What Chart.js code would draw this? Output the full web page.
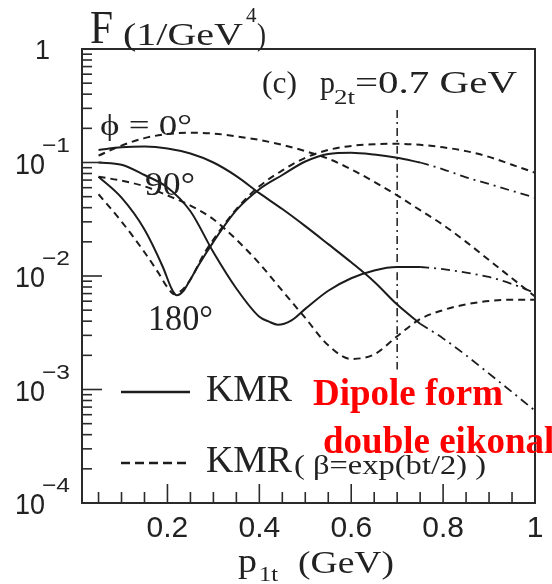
<!DOCTYPE html>
<html>
<head>
<meta charset="utf-8">
<script src="https://cdn.jsdelivr.net/npm/chart.js@4.4.1/dist/chart.umd.min.js"></script>
<style>
  html, body { margin: 0; padding: 0; background: #fff; }
  #wrap { width: 552px; height: 584px; position: relative; }
</style>
</head>
<body>
<div id="wrap"><canvas id="fChart"></canvas></div>
<script>
// p1t grid (GeV) and F values (1/GeV^4)
const xPhi0 = [0.05, 0.1, 0.15, 0.2, 0.25, 0.3, 0.35, 0.4, 0.45, 0.5, 0.55, 0.6, 0.65, 0.7, 0.75];
const kmrPhi0 = [0.129, 0.136, 0.138, 0.133, 0.120, 0.100, 0.0759, 0.0537, 0.0389, 0.0275, 0.0191, 0.0132, 0.0089, 0.0056, 0.0038];

const xPhi90 = [0.05, 0.1, 0.15, 0.2, 0.25, 0.3, 0.35, 0.4, 0.42, 0.44, 0.47, 0.5, 0.55, 0.6, 0.65, 0.7, 0.75];
const kmrPhi90 = [0.100, 0.0955, 0.0776, 0.0603, 0.0372, 0.0162, 0.00776, 0.00437, 0.00398, 0.00372, 0.00407, 0.00513, 0.00741, 0.00955, 0.0112, 0.0120, 0.0120];

const xPhi180 = [0.05, 0.1, 0.15, 0.19, 0.21, 0.22, 0.235, 0.25, 0.27, 0.3, 0.35, 0.4, 0.45, 0.5, 0.55, 0.6, 0.65, 0.7, 0.75];
const kmrPhi180 = [0.075, 0.049, 0.0257, 0.0120, 0.00759, 0.00676, 0.00741, 0.00933, 0.0129, 0.0200, 0.0380, 0.0582, 0.0776, 0.102, 0.119, 0.122, 0.1175, 0.110, 0.100];

// dash-dot continuation of the KMR curves beyond p1t = 0.75
const xTail = [0.75, 0.8, 0.85, 0.9, 0.95, 1.0];
const tailPhi0 = [0.0038, 0.00282, 0.0020, 0.00138, 0.00095, 0.00065];
const tailPhi90 = [0.0120, 0.0115, 0.0107, 0.0098, 0.0085, 0.0071];
const tailPhi180 = [0.100, 0.0871, 0.0741, 0.0646, 0.0562, 0.0490];

// KMR with beta = exp(bt/2)
const xBeta = [0.05, 0.1, 0.15, 0.2, 0.25, 0.3, 0.35, 0.4, 0.45, 0.5, 0.55, 0.6, 0.65, 0.7, 0.75, 0.8, 0.85, 0.9, 0.95, 1.0];
const betaPhi0 = [0.115, 0.141, 0.164, 0.178, 0.183, 0.180, 0.170, 0.158, 0.143, 0.126, 0.108, 0.0871, 0.0676, 0.0513, 0.0380, 0.0282, 0.0200, 0.0138, 0.00955, 0.0066];
const betaPhi90 = [0.075, 0.0692, 0.0617, 0.0513, 0.0417, 0.0316, 0.0209, 0.0129, 0.00741, 0.00427, 0.00245, 0.00186, 0.00204, 0.00295, 0.00417, 0.00501, 0.00562, 0.00603, 0.00617, 0.00617];
const xBeta180 = [0.05, 0.1, 0.15, 0.18, 0.2, 0.215, 0.23, 0.25, 0.28, 0.3, 0.35, 0.4, 0.45, 0.5, 0.55, 0.6, 0.65, 0.7, 0.75, 0.8, 0.85, 0.9, 0.95, 1.0];
const betaPhi180 = [0.0525, 0.0302, 0.0162, 0.0107, 0.00794, 0.00692, 0.00741, 0.00933, 0.0158, 0.0209, 0.0389, 0.0617, 0.0851, 0.110, 0.129, 0.140, 0.145, 0.146, 0.143, 0.136, 0.126, 0.112, 0.0955, 0.0813];

// vertical marker at p1t = p2t
const p2tMark = [0.7, 0.7];
const p2tMarkF = [0.29, 0.0015];

const xTicks = [0.2, 0.4, 0.6, 0.8, 1];
const xTickLabels = ['0.2', '0.4', '0.6', '0.8', '1'];
const yDecades = [1, 0.1, 0.01, 0.001, 0.0001];
const yExponents = ['', '\u22121', '\u22122', '\u22123', '\u22124'];

const pts = (xs, ys) => xs.map((x, i) => ({ x: x, y: ys[i] }));
const INK = '#1c1c1c';
const serif = '"Liberation Serif", "Times New Roman", serif';
const sans = '"Liberation Sans", Arial, sans-serif';

function line(xs, ys, dash, width) {
    return { data: pts(xs, ys), borderColor: INK, borderWidth: width || 2, borderDash: dash || [], pointRadius: 0, fill: false, cubicInterpolationMode: 'monotone' };
}

// text, stretched horizontally to a given width when asked
function txt(ctx, s, x, y, font, w, color, align) {
    ctx.save();
    ctx.font = font;
    ctx.fillStyle = color || '#222';
    ctx.textBaseline = 'alphabetic';
    const m = ctx.measureText(s).width;
    const sx = w ? w / m : 1;
    let x0 = x;
    if (align === 'right') x0 = x - m * sx;
    if (align === 'center') x0 = x - m * sx / 2;
    ctx.translate(x0, y);
    ctx.scale(sx, 1);
    ctx.fillText(s, 0, 0);
    ctx.restore();
}

const framePlugin = {
    id: 'frame',
    afterDatasetsDraw(chart) {
        const ctx = chart.ctx, a = chart.chartArea, xs = chart.scales.x, ys = chart.scales.y;
        ctx.save();
        ctx.strokeStyle = '#2a2a2a';
        ctx.lineWidth = 1.6;
        // inward ticks on the left axis
        for (let k = 0; k >= -4; k--) {
            for (let m = 1; m <= 9; m++) {
                const v = m * Math.pow(10, k - 1);
                if (v < 1e-4 || v > 1) continue;
                const py = ys.getPixelForValue(v);
                const len = m === 1 ? 20 : 10;
                ctx.beginPath(); ctx.moveTo(a.left, py); ctx.lineTo(a.left + len, py); ctx.stroke();
            }
        }
        // inward ticks on the bottom axis
        for (let i = 1; i <= 20; i++) {
            const v = i * 0.05;
            const px = xs.getPixelForValue(v);
            const len = i % 4 === 0 ? 19 : 11;
            ctx.beginPath(); ctx.moveTo(px, a.bottom); ctx.lineTo(px, a.bottom - len); ctx.stroke();
        }
        ctx.lineWidth = 2;
        ctx.strokeRect(a.left, a.top, a.right - a.left, a.bottom - a.top);
        ctx.restore();

        // tick labels
        xTicks.forEach((v, i) => txt(ctx, xTickLabels[i], xs.getPixelForValue(v), 537, '30px ' + sans, null, '#222', 'center'));
        yDecades.forEach((v, i) => {
            const py = ys.getPixelForValue(v);
            if (i === 0) { txt(ctx, '1', 50, py + 10, '27px ' + sans, null, '#222', 'right'); return; }
            txt(ctx, '10', 45, py + 11, '30px ' + sans, 30, '#222', 'right');
            txt(ctx, yExponents[i], 42, py - 11, '21px ' + sans, 28);
        });

        // axis titles
        txt(ctx, 'F', 90, 43, '46px ' + serif, 23);
        txt(ctx, '(1/GeV', 123, 45, '32px ' + serif, 120);
        txt(ctx, '4', 246, 22, '21px ' + serif);
        txt(ctx, ')', 257, 45, '32px ' + serif, 9);
        txt(ctx, 'p', 238, 572, '34px ' + serif, 19);
        txt(ctx, '1t', 259, 581, '21px ' + serif, 19);
        txt(ctx, '(GeV)', 298, 573, '32px ' + serif, 96);

        // panel annotations
        txt(ctx, '(c)', 262, 93, '31px ' + serif, 35);
        txt(ctx, 'p', 320, 93, '31px ' + serif, 15);
        txt(ctx, '2t', 334, 104, '20px ' + serif, 21);
        txt(ctx, '=0.7 GeV', 355, 93, '31px ' + serif, 162);
        txt(ctx, '\u03d5 = 0\u00b0', 100, 135, '30px ' + serif, 92);
        txt(ctx, '90\u00b0', 145, 195, '34px ' + serif, 50);
        txt(ctx, '180\u00b0', 148, 330, '36px ' + serif, 65);

        // legend
        ctx.save();
        ctx.strokeStyle = INK; ctx.lineWidth = 2.6;
        ctx.beginPath(); ctx.moveTo(121, 392); ctx.lineTo(190, 392); ctx.stroke();
        ctx.setLineDash([9, 5]);
        ctx.beginPath(); ctx.moveTo(121, 463); ctx.lineTo(186, 463); ctx.stroke();
        ctx.restore();
        txt(ctx, 'KMR', 206, 401, '37px ' + serif, 86);
        txt(ctx, 'KMR', 206, 472, '37px ' + serif, 86);
        txt(ctx, '( \u03b2=exp(bt/2) )', 294, 474, '28px ' + serif, 192);

        // red note
        txt(ctx, 'Dipole form', 313, 405, 'bold 37px ' + serif, 190, '#ff0000');
        txt(ctx, 'double eikonal', 323, 453, 'bold 37px ' + serif, null, '#ff0000');
    }
};

new Chart(document.getElementById('fChart').getContext('2d'), {
    type: 'line',
    data: {
        datasets: [
            line(xPhi0, kmrPhi0),
            line(xPhi90, kmrPhi90),
            line(xPhi180, kmrPhi180),
            line(xTail, tailPhi0, [9, 5, 2, 5], 1.8),
            line(xTail, tailPhi90, [9, 5, 2, 5], 1.8),
            line(xTail, tailPhi180, [9, 5, 2, 5], 1.8),
            line(xBeta, betaPhi0, [7, 5]),
            line(xBeta, betaPhi90, [7, 5]),
            line(xBeta180, betaPhi180, [7, 5]),
            line(p2tMark, p2tMarkF, [8, 4, 2, 4], 1.5)
        ]
    },
    options: {
        responsive: true,
        maintainAspectRatio: false,
        animation: false,
        layout: { padding: { left: 82, right: 17, top: 49, bottom: 81 } },
        plugins: { legend: { display: false }, tooltip: { enabled: false }, title: { display: false } },
        scales: {
            x: { type: 'linear', min: 0.014, max: 1, display: false },
            y: { type: 'logarithmic', min: 0.0001, max: 1, display: false }
        }
    },
    plugins: [framePlugin]
});
</script>
</body>
</html>
